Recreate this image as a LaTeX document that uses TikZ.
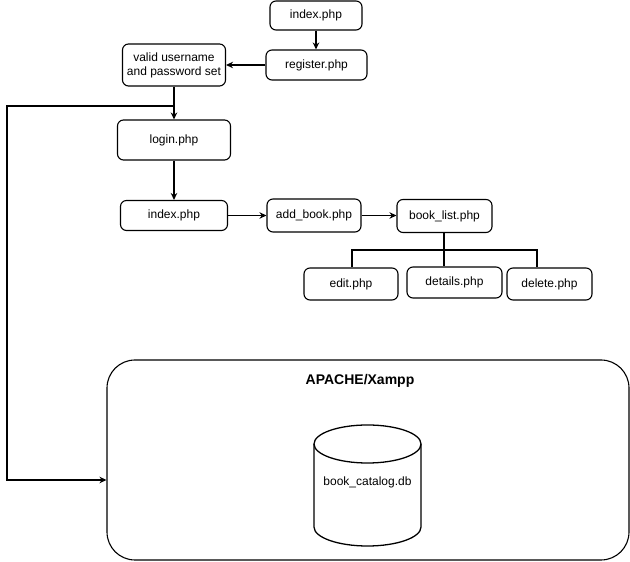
\documentclass[tikz,border=0pt]{standalone}
\usepackage{fontspec}
\setmainfont{Liberation Sans}
\usetikzlibrary{arrows.meta}
\begin{document}
\begin{tikzpicture}[x=1pt,y=1pt,
  box/.style={draw, line width=1.1pt, rounded corners=6pt, inner sep=0pt, font=\fontsize{12}{14}\selectfont, align=center},
  arr/.style={line width=1.1pt, -{Stealth[length=7pt,width=6.5pt]}},
  treeline/.style={line width=2.2pt},
  thinline/.style={line width=1.1pt},
  lbl/.style={font=\fontsize{12}{14}\selectfont, inner sep=0pt}]
\useasboundingbox (0,0) rectangle (630,562);
% boxes
\node[box, minimum width=92pt, minimum height=29pt] (idx1) at (316,546.5) {index.php};
\node[box, minimum width=101pt, minimum height=30pt] (reg) at (316.5,497) {register.php};
\node[box, minimum width=103pt, minimum height=42pt] (valid) at (174,497) {valid username\\and password set};
\node[box, minimum width=113pt, minimum height=40pt] (login) at (174,422) {login.php};
\node[box, minimum width=107pt, minimum height=30pt] (idx2) at (174,346.5) {index.php};
\node[box, minimum width=94pt, minimum height=33pt] (addb) at (314,346.5) {add\_book.php};
\node[box, minimum width=95pt, minimum height=33pt] (blist) at (444.5,346) {book\_list.php};
\node[box, minimum width=94pt, minimum height=32pt] (edit) at (351,278) {edit.php};
\node[box, minimum width=95pt, minimum height=31pt] (details) at (454.5,279.5) {details.php};
\node[box, minimum width=85pt, minimum height=32pt] (delete) at (549.5,278) {delete.php};
% server box
\node[draw, line width=1.1pt, rounded corners=28pt, minimum width=522pt, minimum height=200pt, inner sep=0pt] (srv) at (368,102) {};
\node[lbl, font=\fontsize{14}{16}\selectfont\bfseries] (title) at (360,181) {APACHE/Xampp};
% database cylinder
\draw[line width=1.3pt] (314,118) -- (314,35) arc[start angle=180,end angle=360,x radius=53.5pt,y radius=19pt] -- (421,118);
\draw[line width=1.3pt] (367.5,118) ellipse [x radius=53.5pt, y radius=19pt];
\node[lbl] (db) at (367.5,80) {book\_catalog.db};
% connectors
\draw[arr] (idx1.south) -- (idx1.south |- reg.north);
\draw[arr] (reg.west) -- (valid.east);
\draw[arr] (valid.south) -- (login.north);
\coordinate (j) at (174,456);
\coordinate (c1) at (7,456);
\coordinate (c2) at (7,82);
\draw[arr] (j) -- (c1) -- (c2) -- (c2 -| srv.west);
\draw[arr] (login.south) -- (idx2.north);
\draw[arr] (idx2.east) -- (addb.west);
\draw[arr] (addb.east) -- (addb.east -| blist.west);
% tree
\coordinate (t) at (444,312);
\draw[treeline] (blist.south -| t) -- (t);
\draw[treeline] ([xshift=1pt]edit.north) -- ([xshift=1pt]edit.north |- t) -- ([xshift=-12.5pt]delete.north |- t) -- ([xshift=-12.5pt]delete.north);
\draw[thinline] (t) -- (t |- details.north);
\end{tikzpicture}
\end{document}
